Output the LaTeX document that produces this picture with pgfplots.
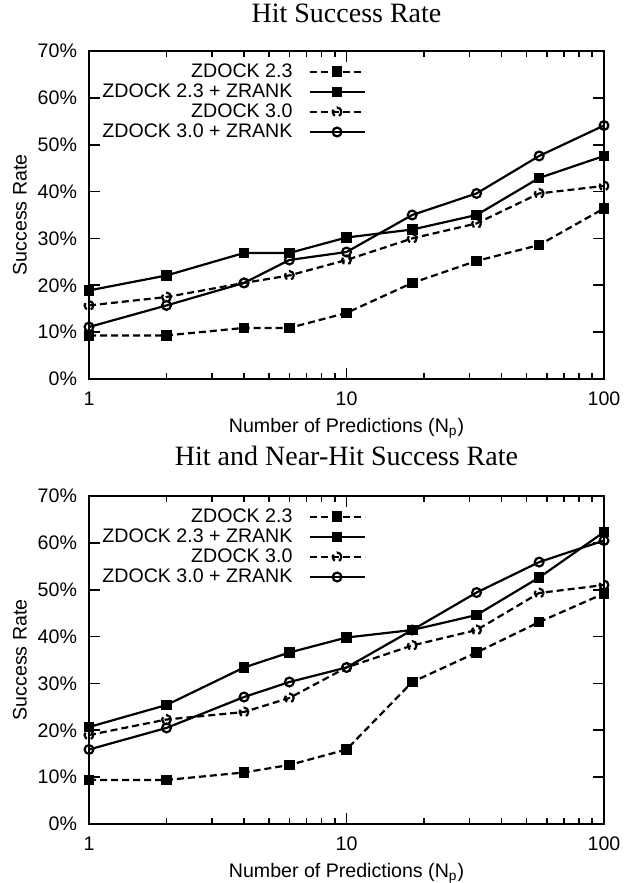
\documentclass[border=0pt]{standalone}
\usepackage{fontspec}
\setmainfont{Liberation Sans}
\newfontfamily\titlefont{Liberation Serif}
\usepackage{pgfplots}
\pgfplotsset{compat=1.18}
\tikzset{
  zsq/.style={black, line width=1.1pt, dash pattern=on 3.5pt off 2pt, mark=square*, mark size=2.1pt, mark options={solid}},
  zsqr/.style={black, line width=1.1pt, solid, mark=square*, mark size=2.1pt},
  zci/.style={black, line width=1.1pt, dash pattern=on 3.5pt off 2pt, mark=o, mark size=2.2pt},
  zcir/.style={black, line width=1.1pt, solid, mark=o, mark size=2.2pt},
}
\begin{document}
\begin{tikzpicture}[font=\fontsize{9.8}{11}\selectfont]
\path[use as bounding box] (-44.5pt,-252pt) rectangle (268.5pt,189.5pt);
\begin{axis}[at={(0pt,0pt)}, anchor=south west, title={Hit Success Rate},
    xmode=log, xmin=1, xmax=100, ymin=0, ymax=70,
    scale only axis, width=257.5pt, height=164pt,
    xtick={1,10,100}, xticklabels={1,10,100},
    minor xtick={2,3,4,5,6,7,8,9,20,30,40,50,60,70,80,90},
    ytick={0,10,20,30,40,50,60,70},
    yticklabels={0\%,10\%,20\%,30\%,40\%,50\%,60\%,70\%},
    tick align=inside, major tick length=5.5pt, minor tick length=3pt,
    tick style={black, line width=0.8pt},
    axis line style={line width=0.9pt},
    yticklabel style={xshift=-2.5pt},
    xticklabel style={yshift=-3pt},
    xlabel={Number of Predictions (N\textsubscript{p})},
    xlabel style={at={(axis description cs:0.5,-0.149)}, anchor=center},
    ylabel={Success Rate},
    ylabel style={at={(axis description cs:-0.134,0.5)}, anchor=center},
    title style={at={(axis description cs:0.5,1.078)}, anchor=center, font=\titlefont\fontsize{14}{16}\selectfont},
    legend cell align=right,
    legend plot pos=right,
    legend style={draw=none, fill=none, at={(0.538,1)}, anchor=north east, yshift=-4pt,
      inner sep=0pt, row sep=-2.3pt, column sep=6pt},
    legend image code/.code={\draw[mark repeat=2,mark phase=2] plot coordinates {(0pt,0pt)(13.75pt,0pt)(27.5pt,0pt)};},
  ]
\addplot[zsq] coordinates {(1,9.3) (2,9.3) (4,10.9) (6,10.9) (10,14.1) (18,20.5) (32,25.2) (56,28.6) (100,36.4)};
\addlegendentry{ZDOCK 2.3}
\addplot[zsqr] coordinates {(1,18.9) (2,22.1) (4,26.9) (6,26.9) (10,30.2) (18,31.9) (32,35.0) (56,42.9) (100,47.6)};
\addlegendentry{ZDOCK 2.3 + ZRANK}
\addplot[zci] coordinates {(1,15.7) (2,17.5) (4,20.5) (6,22.1) (10,25.4) (18,30.0) (32,33.2) (56,39.6) (100,41.2)};
\addlegendentry{ZDOCK 3.0}
\addplot[zcir] coordinates {(1,11.1) (2,15.7) (4,20.5) (6,25.4) (10,27.1) (18,35.0) (32,39.6) (56,47.6) (100,54.1)};
\addlegendentry{ZDOCK 3.0 + ZRANK}
\end{axis}
\begin{axis}[at={(0pt,-222.5pt)}, anchor=south west, title={Hit and Near-Hit Success Rate},
    xmode=log, xmin=1, xmax=100, ymin=0, ymax=70,
    scale only axis, width=257.5pt, height=164pt,
    xtick={1,10,100}, xticklabels={1,10,100},
    minor xtick={2,3,4,5,6,7,8,9,20,30,40,50,60,70,80,90},
    ytick={0,10,20,30,40,50,60,70},
    yticklabels={0\%,10\%,20\%,30\%,40\%,50\%,60\%,70\%},
    tick align=inside, major tick length=5.5pt, minor tick length=3pt,
    tick style={black, line width=0.8pt},
    axis line style={line width=0.9pt},
    yticklabel style={xshift=-2.5pt},
    xticklabel style={yshift=-3pt},
    xlabel={Number of Predictions (N\textsubscript{p})},
    xlabel style={at={(axis description cs:0.5,-0.149)}, anchor=center},
    ylabel={Success Rate},
    ylabel style={at={(axis description cs:-0.134,0.5)}, anchor=center},
    title style={at={(axis description cs:0.5,1.085)}, anchor=center, font=\titlefont\fontsize{14}{16}\selectfont},
    legend cell align=right,
    legend plot pos=right,
    legend style={draw=none, fill=none, at={(0.538,1)}, anchor=north east, yshift=-4pt,
      inner sep=0pt, row sep=-2.3pt, column sep=6pt},
    legend image code/.code={\draw[mark repeat=2,mark phase=2] plot coordinates {(0pt,0pt)(13.75pt,0pt)(27.5pt,0pt)};},
  ]
\addplot[zsq] coordinates {(1,9.4) (2,9.4) (4,11.0) (6,12.6) (10,15.9) (18,30.3) (32,36.6) (56,43.1) (100,49.2)};
\addlegendentry{ZDOCK 2.3}
\addplot[zsqr] coordinates {(1,20.7) (2,25.4) (4,33.4) (6,36.6) (10,39.8) (18,41.4) (32,44.6) (56,52.6) (100,62.3)};
\addlegendentry{ZDOCK 2.3 + ZRANK}
\addplot[zci] coordinates {(1,19.0) (2,22.3) (4,23.9) (6,26.9) (10,33.4) (18,38.1) (32,41.4) (56,49.3) (100,51.0)};
\addlegendentry{ZDOCK 3.0}
\addplot[zcir] coordinates {(1,15.9) (2,20.5) (4,27.1) (6,30.3) (10,33.4) (18,41.4) (32,49.4) (56,55.9) (100,60.5)};
\addlegendentry{ZDOCK 3.0 + ZRANK}
\end{axis}
\end{tikzpicture}
\end{document}
